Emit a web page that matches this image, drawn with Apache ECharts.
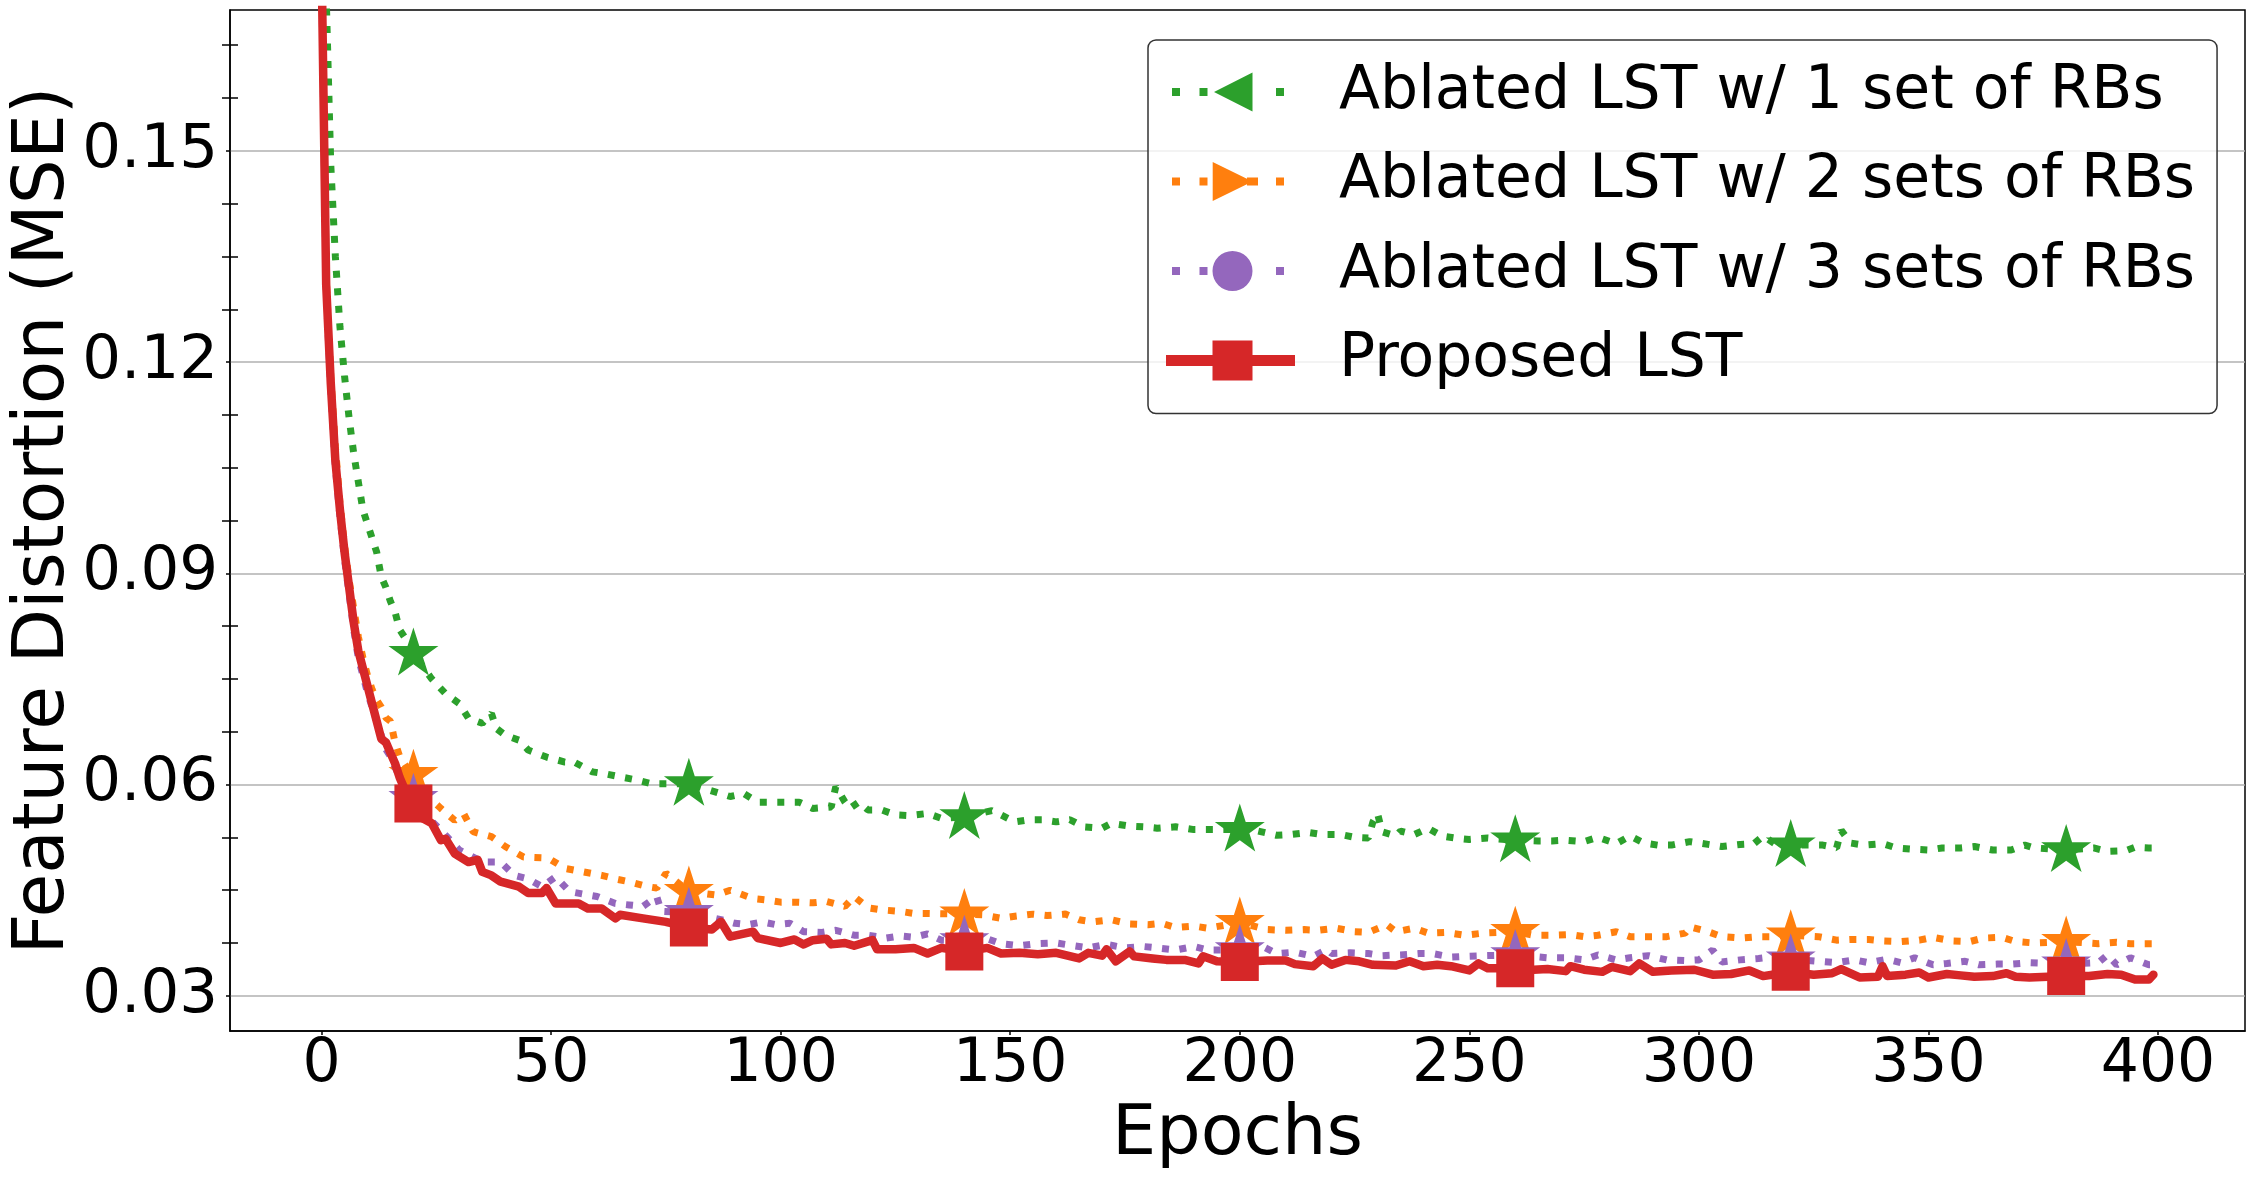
<!DOCTYPE html>
<html>
<head>
<meta charset="utf-8">
<script src="https://cdn.jsdelivr.net/npm/echarts@6/dist/echarts.min.js"></script>
<style>
  html, body { margin: 0; padding: 0; background: #fff; }
  #chart { width: 2255px; height: 1181px; }
</style>
</head>
<body>
<div id="chart"></div>
<script>
// tick values
var xTicks = [0, 50, 100, 150, 200, 250, 300, 350, 400];
var yTicks = [0.03, 0.06, 0.09, 0.12, 0.15];
var yMinorTicks = [0.0375, 0.045, 0.0525, 0.0675, 0.075, 0.0825, 0.0975, 0.105, 0.1125,
                   0.1275, 0.135, 0.1425, 0.1575, 0.165];
var markerEpochs = [20, 80, 140, 200, 260, 320, 380];

// [epoch, MSE]
var oneSet = [
  [0, 0.205], [1, 0.172], [2, 0.148], [3, 0.135], [4, 0.125], [5, 0.118], [6, 0.112], [7, 0.107],
  [8, 0.103], [9, 0.099], [10, 0.097], [11, 0.095], [12, 0.093], [13, 0.0895], [14, 0.088],
  [15, 0.086], [16, 0.0845], [17, 0.082], [18, 0.081], [19, 0.0795], [20, 0.0786], [24, 0.075],
  [27, 0.0729], [30, 0.0715], [32, 0.0694], [35, 0.0687], [37, 0.0701], [38, 0.068], [40, 0.067],
  [43, 0.0663], [45, 0.0649], [49, 0.0639], [53, 0.0632], [55, 0.0632], [59, 0.0618], [62, 0.0615],
  [65, 0.0611], [69, 0.0606], [72, 0.0601], [80, 0.0601], [87, 0.0587], [89, 0.0583], [92, 0.0587],
  [95, 0.0575], [98, 0.0575], [102, 0.0575], [104, 0.0575], [107, 0.0566], [111, 0.0568],
  [112, 0.0597], [114, 0.0575], [115, 0.0566], [117, 0.0575], [119, 0.0564], [122, 0.0564],
  [125, 0.0557], [128, 0.0556], [132, 0.0559], [135, 0.0552], [140, 0.0554], [146, 0.0563],
  [148, 0.0557], [151, 0.0547], [154, 0.055], [157, 0.055], [160, 0.0547], [163, 0.055],
  [166, 0.054], [170, 0.0538], [172, 0.0545], [176, 0.0541], [179, 0.054], [182, 0.0538],
  [186, 0.054], [190, 0.0536], [193, 0.0536], [200, 0.0536], [204, 0.0534], [208, 0.0528],
  [211, 0.0529], [215, 0.0532], [218, 0.0529], [222, 0.0529], [225, 0.0525], [228, 0.0524],
  [229, 0.0547], [230, 0.0559], [231, 0.0533], [234, 0.0527], [235, 0.0534], [238, 0.0529],
  [241, 0.0538], [244, 0.0527], [247, 0.0524], [250, 0.0522], [254, 0.0524], [260, 0.0521],
  [265, 0.052], [268, 0.052], [271, 0.0521], [275, 0.0519], [278, 0.0525], [282, 0.0516],
  [285, 0.0527], [288, 0.0517], [291, 0.0514], [294, 0.0514], [298, 0.0519], [302, 0.0515],
  [305, 0.0512], [309, 0.0515], [312, 0.0516], [314, 0.0527], [317, 0.0514], [320, 0.0514],
  [327, 0.0514], [330, 0.051], [331, 0.0535], [333, 0.0517], [336, 0.0514], [340, 0.0516],
  [343, 0.051], [347, 0.0508], [350, 0.0507], [353, 0.051], [357, 0.051], [360, 0.0512],
  [364, 0.0507], [368, 0.0507], [371, 0.0514], [373, 0.051], [380, 0.0507], [386, 0.051],
  [389, 0.0505], [393, 0.0506], [395, 0.0511], [398, 0.051], [399, 0.051]
];

var twoSets = [
  [0, 0.178], [1, 0.132], [2, 0.118], [3, 0.108], [4, 0.1], [5, 0.094], [6, 0.089], [7, 0.085],
  [8, 0.081], [9, 0.078], [10, 0.0755], [11, 0.0735], [12, 0.072], [13, 0.071], [14, 0.0695],
  [15, 0.069], [16, 0.066], [17, 0.064], [18, 0.063], [19, 0.062], [20, 0.0614], [22, 0.059],
  [26, 0.0566], [29, 0.0549], [31, 0.0558], [33, 0.0533], [37, 0.0526], [40, 0.0512], [44, 0.0497],
  [48, 0.0496], [50, 0.0493], [53, 0.0481], [57, 0.0476], [61, 0.0471], [64, 0.0466], [67, 0.0462],
  [71, 0.0455], [73, 0.0453], [75, 0.0474], [80, 0.0448], [86, 0.0443], [89, 0.045], [94, 0.0438],
  [97, 0.0436], [100, 0.0433], [104, 0.0433], [107, 0.0432], [110, 0.0434], [114, 0.0427],
  [116, 0.0441], [119, 0.0425], [122, 0.0422], [126, 0.042], [129, 0.0417], [132, 0.0417],
  [140, 0.0416], [144, 0.0415], [148, 0.041], [151, 0.0413], [155, 0.0416], [158, 0.0414],
  [162, 0.0416], [165, 0.0408], [168, 0.0405], [172, 0.0408], [176, 0.0402], [180, 0.0401],
  [183, 0.0403], [186, 0.0397], [190, 0.0399], [193, 0.0396], [200, 0.0404], [206, 0.0394],
  [210, 0.0393], [214, 0.0394], [217, 0.0393], [221, 0.0396], [225, 0.0391], [228, 0.039],
  [232, 0.0401], [234, 0.0391], [238, 0.0396], [241, 0.0389], [245, 0.039], [249, 0.0386],
  [253, 0.0389], [260, 0.0391], [264, 0.0386], [268, 0.0386], [272, 0.0387], [275, 0.0384],
  [278, 0.0386], [282, 0.0391], [285, 0.0384], [289, 0.0384], [293, 0.0384], [297, 0.0389],
  [298, 0.0398], [302, 0.0391], [305, 0.0384], [309, 0.0382], [313, 0.0384], [316, 0.0384],
  [320, 0.0386], [326, 0.0384], [330, 0.0379], [333, 0.038], [337, 0.038], [340, 0.0378],
  [344, 0.0377], [348, 0.0379], [351, 0.0383], [355, 0.0378], [359, 0.0377], [362, 0.0382],
  [366, 0.0383], [369, 0.0377], [373, 0.0375], [380, 0.0377], [387, 0.0374], [391, 0.0376],
  [394, 0.0374], [398, 0.0374], [399, 0.0374]
];

var threeSets = [
  [0, 0.176], [1, 0.13], [2, 0.116], [3, 0.105], [4, 0.098], [5, 0.092], [6, 0.087], [7, 0.082],
  [8, 0.078], [9, 0.0755], [10, 0.073], [11, 0.071], [12, 0.069], [13, 0.067], [14, 0.065],
  [15, 0.064], [16, 0.0625], [17, 0.061], [18, 0.0595], [19, 0.0585], [20, 0.058], [22, 0.0562],
  [24, 0.0548], [26, 0.0535], [30, 0.0507], [35, 0.049], [39, 0.049], [42, 0.0471], [45, 0.0466],
  [48, 0.0455], [51, 0.0469], [54, 0.0448], [60, 0.0441], [64, 0.0431], [67, 0.0429], [70, 0.0427],
  [73, 0.0441], [74, 0.042], [80, 0.0418], [87, 0.0408], [90, 0.0403], [93, 0.0401], [96, 0.0405],
  [99, 0.0401], [102, 0.0403], [105, 0.0391], [109, 0.039], [112, 0.0393], [116, 0.0386],
  [119, 0.0386], [123, 0.0382], [126, 0.0385], [129, 0.0383], [132, 0.0388], [135, 0.0379],
  [140, 0.0378], [145, 0.0381], [148, 0.0374], [152, 0.0371], [156, 0.0374], [160, 0.0375],
  [164, 0.0371], [167, 0.0368], [171, 0.0373], [175, 0.0368], [179, 0.037], [182, 0.0368],
  [186, 0.0365], [190, 0.037], [193, 0.0365], [200, 0.0365], [205, 0.037], [208, 0.036],
  [212, 0.0362], [216, 0.0356], [219, 0.0366], [220, 0.036], [224, 0.0361], [228, 0.036],
  [231, 0.0357], [235, 0.0358], [239, 0.036], [242, 0.036], [246, 0.0355], [249, 0.0356],
  [253, 0.0357], [260, 0.0358], [267, 0.0354], [271, 0.0354], [275, 0.0351], [278, 0.0358],
  [282, 0.0351], [285, 0.0354], [289, 0.0357], [293, 0.0351], [297, 0.035], [300, 0.0351],
  [303, 0.0365], [305, 0.0348], [309, 0.0351], [313, 0.0353], [317, 0.0356], [320, 0.0352],
  [326, 0.0349], [330, 0.0347], [334, 0.0351], [337, 0.0347], [341, 0.0352], [344, 0.0347],
  [347, 0.0354], [351, 0.0344], [354, 0.0346], [358, 0.0349], [361, 0.0344], [365, 0.0345],
  [368, 0.0345], [372, 0.0347], [380, 0.0345], [387, 0.0347], [389, 0.0358], [391, 0.0344],
  [394, 0.0354], [398, 0.0344], [399, 0.0344]
];

var proposed = [
  [0, 0.177], [1, 0.131], [2, 0.117], [3, 0.106], [4, 0.099], [5, 0.093], [6, 0.088], [7, 0.083],
  [8, 0.079], [9, 0.0765], [10, 0.074], [11, 0.0715], [12, 0.069], [13, 0.0665], [14, 0.066],
  [15, 0.0645], [16, 0.063], [17, 0.061], [18, 0.0595], [19, 0.0585], [20, 0.0573], [22, 0.0552],
  [24, 0.0545], [26, 0.0521], [27, 0.0523], [29, 0.0502], [32, 0.049], [34, 0.0493], [35, 0.0476],
  [37, 0.0471], [39, 0.0462], [43, 0.0455], [45, 0.0446], [48, 0.0446], [49, 0.0453], [51, 0.0431],
  [56, 0.0431], [58, 0.0424], [61, 0.0424], [64, 0.041], [65, 0.0415], [70, 0.041], [75, 0.0405],
  [80, 0.0397], [85, 0.0394], [87, 0.0405], [89, 0.0384], [94, 0.0391], [95, 0.0382], [100, 0.0375],
  [103, 0.038], [105, 0.0373], [107, 0.0379], [110, 0.0381], [111, 0.0373], [114, 0.0375],
  [116, 0.0371], [120, 0.0379], [121, 0.0366], [125, 0.0366], [129, 0.0368], [132, 0.036],
  [135, 0.0368], [140, 0.0363], [145, 0.0368], [148, 0.036], [152, 0.0361], [156, 0.0359],
  [160, 0.0361], [165, 0.0353], [167, 0.0361], [170, 0.0357], [171, 0.0366], [173, 0.0349],
  [176, 0.0363], [177, 0.0356], [181, 0.0353], [184, 0.0351], [188, 0.0351], [191, 0.0346],
  [192, 0.0356], [195, 0.0349], [200, 0.0348], [206, 0.035], [210, 0.035], [212, 0.0345],
  [216, 0.0342], [218, 0.0353], [220, 0.0344], [223, 0.0351], [226, 0.0349], [229, 0.0344],
  [234, 0.0343], [237, 0.0349], [240, 0.0342], [243, 0.0344], [246, 0.0342], [250, 0.0336],
  [252, 0.0346], [254, 0.0339], [260, 0.0339], [264, 0.0337], [267, 0.0338], [271, 0.0335],
  [272, 0.0342], [275, 0.0337], [279, 0.0334], [281, 0.0341], [285, 0.0335], [287, 0.0346],
  [290, 0.0334], [294, 0.0336], [299, 0.0337], [303, 0.033], [307, 0.0331], [311, 0.0336],
  [314, 0.0328], [317, 0.0331], [320, 0.0334], [325, 0.033], [329, 0.0332], [331, 0.0338],
  [335, 0.0326], [339, 0.0327], [340, 0.0342], [341, 0.0328], [345, 0.033], [348, 0.0333],
  [350, 0.0326], [354, 0.0331], [357, 0.0329], [360, 0.0327], [364, 0.0328], [367, 0.0332],
  [369, 0.0327], [372, 0.0326], [380, 0.0328], [385, 0.0328], [389, 0.0331], [392, 0.033],
  [395, 0.0323], [398, 0.0323], [399, 0.033]
];

var names = [
  'Ablated LST w/ 1 set of RBs',
  'Ablated LST w/ 2 sets of RBs',
  'Ablated LST w/ 3 sets of RBs',
  'Proposed LST'
];
var colors = ['#2ca02c', '#ff7f0e', '#9467bd', '#d62728'];

var STAR = 'path://M50,0 L61.23,34.55 L97.55,34.55 L68.17,55.9 L79.39,90.45 L50,69.1 L20.61,90.45 L31.83,55.9 L2.45,34.55 L38.77,34.55 Z';

// legend icons: 168x62 frame (the leading moveTos fix the frame size)
var FRAME = 'M0,0 M168,62 ';
var legendIcons = [
  'path://' + FRAME + 'M6,27 h8 v8 h-8 Z M33.5,27 h8 v8 h-8 Z M110,27 h8 v8 h-8 Z M48,31 L86.5,11.5 L86.5,50.5 Z',
  'path://' + FRAME + 'M6,27 h8 v8 h-8 Z M33.5,27 h8 v8 h-8 Z M81,27 h11 v8 h-11 Z M110,27 h8 v8 h-8 Z M46.7,11.5 L86.5,31 L46.7,50.5 Z',
  'path://' + FRAME + 'M6,27 h8 v8 h-8 Z M33.5,27 h8 v8 h-8 Z M110,27 h8 v8 h-8 Z M46.5,31 A20,20 0 1,1 86.5,31 A20,20 0 1,1 46.5,31 Z',
  'path://' + FRAME + 'M0,25.5 h129 v11 h-129 Z M46.5,11 h40 v40 h-40 Z'
];

function withMarkers(pairs, shape) {
  return pairs.map(function (p) {
    return { value: p, symbol: markerEpochs.indexOf(p[0]) >= 0 ? shape : 'none' };
  });
}

function makeSeries(i, pairs, shape, size, offset, dotted) {
  return {
    name: names[i],
    type: 'line',
    z: 2 + i,
    data: withMarkers(pairs, shape),
    color: colors[i],
    symbol: shape,
    symbolSize: size,
    symbolOffset: offset,
    showSymbol: true,
    showAllSymbol: true,
    silent: true,
    lineStyle: dotted
      ? { width: 7, type: [7, 10.5], cap: 'butt', color: colors[i] }
      : { width: 8.5, type: 'solid', cap: 'round', join: 'round', color: colors[i] },
    itemStyle: { color: colors[i], borderWidth: 0 }
  };
}

var chart = echarts.init(document.getElementById('chart'), null, { renderer: 'canvas' });

var option = {
  animation: false,
  backgroundColor: '#fff',
  textStyle: { fontFamily: 'DejaVu Sans' },
  grid: {
    left: 230, right: 10, top: 10, bottom: 150,
    outerBoundsMode: 'none',
    show: true, borderColor: '#000', borderWidth: 1.5, backgroundColor: 'transparent'
  },
  legend: {
    orient: 'vertical',
    left: 1148, top: 40,
    z: 10,
    padding: [21, 22, 22, 18],
    itemGap: 27.5,
    itemWidth: 168,
    itemHeight: 62,
    selectedMode: false,
    backgroundColor: 'rgba(255,255,255,0.8)',
    borderColor: '#333',
    borderWidth: 1.5,
    borderRadius: 8,
    itemStyle: { borderWidth: 0 },
    textStyle: { fontSize: 60, color: '#000', fontFamily: 'DejaVu Sans', lineHeight: 62 },
    data: names.map(function (n, i) {
      return { name: n, icon: legendIcons[i], itemStyle: { color: colors[i], borderWidth: 0 } };
    })
  },
  xAxis: {
    type: 'value',
    min: -19.95, max: 418.95,
    name: 'Epochs',
    nameLocation: 'middle',
    nameGap: 70,
    nameMoveOverlap: false,
    nameTextStyle: { fontSize: 70, color: '#000', fontFamily: 'DejaVu Sans' },
    axisLine: { show: true, onZero: false, lineStyle: { color: '#000', width: 1.5 } },
    axisTick: { show: true, length: 4, customValues: xTicks, lineStyle: { color: '#000', width: 1.5 } },
    axisLabel: { customValues: xTicks, fontSize: 60, color: '#000', margin: 4, fontFamily: 'DejaVu Sans' },
    splitLine: { show: false }
  },
  yAxis: [
    {
      type: 'value',
      min: 0.025, max: 0.17,
      position: 'left',
      name: 'Feature Distortion (MSE)',
      nameLocation: 'middle',
      nameRotate: 90,
      nameGap: 150,
      nameMoveOverlap: false,
      nameTextStyle: { fontSize: 71, color: '#000', fontFamily: 'DejaVu Sans' },
      axisLine: { show: true, onZero: false, lineStyle: { color: '#000', width: 1.5 } },
      axisTick: { show: true, length: 4, customValues: yTicks, lineStyle: { color: '#000', width: 1.5 } },
      axisLabel: {
        customValues: yTicks, fontSize: 61, color: '#000', margin: 12, fontFamily: 'DejaVu Sans',
        formatter: function (v) { return v.toFixed(2); }
      },
      splitLine: { show: true, lineStyle: { color: '#b0b0b0', width: 1.5 } }
    },
    {
      type: 'value',
      min: 0.025, max: 0.17,
      position: 'left',
      offset: -8,
      axisLine: { show: false, onZero: false },
      axisLabel: { show: false },
      splitLine: { show: false },
      axisTick: { show: true, length: 16, customValues: yMinorTicks, lineStyle: { color: '#000', width: 1.5 } }
    }
  ],
  series: [
    makeSeries(0, oneSet, STAR, [50, 48], [0, -2], true),
    makeSeries(1, twoSets, STAR, [50, 48], [0, -2], true),
    makeSeries(2, threeSets, STAR, [50, 48], [0, -2], true),
    makeSeries(3, proposed, 'rect', 38, [0, 0], false)
  ]
};

chart.setOption(option);
</script>
</body>
</html>
